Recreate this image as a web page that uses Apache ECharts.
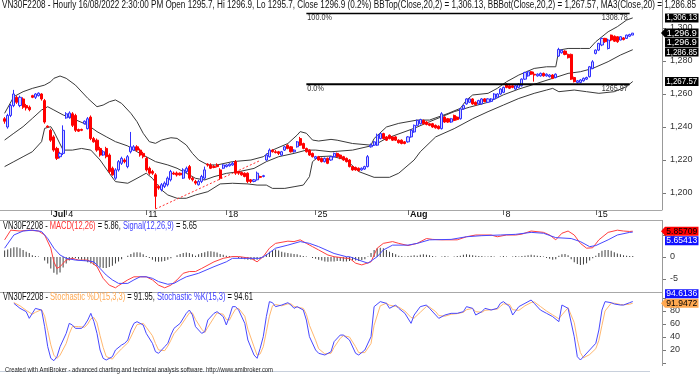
<!DOCTYPE html>
<html><head><meta charset="utf-8">
<script src="https://cdn.jsdelivr.net/npm/echarts@6/dist/echarts.min.js"></script>
<style>html,body{margin:0;padding:0;background:#fff}#c{width:700px;height:374px}</style>
</head><body><div id="c"></div>
<script>
// ---------------- DATA ----------------
const symbol = 'VN30F2208';
const barTime = '16/08/2022 2:30:00 PM';
const changePct = '0.2%';
// day-start bar index -> label
const dayTicks = [[15,'Jul'],[20,'4'],[46,'11'],[72,'18'],[101,'25'],[131,'Aug'],[162,'8'],[192,'15']];
// hourly bars: [open, close, low, high]
const priceBars = [
[1245,1243.5,1242,1246],[1240,1247,1239,1248],[1247,1253,1246,1254],[1253,1260,1252,1262.5],[1258,1255,1254,1259],
[1253,1258,1252,1259],[1257,1252,1251,1258],[1253,1251.5,1250,1254],[1252,1250.5,1249.5,1253],[1259,1258,1257.5,1259.5],
[1258,1260,1257,1260.5],[1259,1260.5,1258.5,1261],[1260,1257,1256,1260.5],[1256,1243,1242,1257],[1240.5,1240,1239.5,1241],
[1238,1232,1231,1239],[1234,1226,1225,1235],[1227,1221,1220,1228],[1222,1224,1221,1225],[1224,1238,1223,1241],
[1245.5,1248,1245,1249],[1246,1248.5,1245,1249.5],[1248,1241,1240,1249],[1247,1238,1237,1248],[1238.5,1237.5,1237,1239],
[1238.5,1238,1237.5,1239],[1242,1243.5,1241.5,1244],[1239,1245,1238.5,1246],[1246,1233,1232,1247],[1233,1231,1230.5,1234],
[1232,1226,1225,1233],[1227,1223,1222,1228],[1223,1225,1222.5,1226],[1227,1222,1221,1228],[1223,1213,1212,1224],
[1215,1211,1210.5,1216],[1209,1214,1208,1215],[1214,1219,1213,1220],[1218,1221,1217,1222],[1220,1219,1218,1221],
[1216,1222,1215,1223],[1225,1228,1224,1237],[1226,1228,1225.5,1229],[1228,1226,1225,1229],[1226,1223,1222,1227],
[1224,1222,1221,1225],[1221,1214,1213,1222],[1215,1212,1211,1216],[1213,1212,1211,1214],[1211,1198,1190.5,1212],
[1204,1203,1202,1205],[1202,1205,1201,1206],[1204,1206,1203,1207],[1205,1209,1204,1210],[1208,1213,1207,1214],
[1212,1211.5,1211,1213],[1212,1211,1210,1213],[1212,1211,1210.5,1212.5],[1209,1214,1208.5,1215],[1213,1215,1212,1216],
[1216,1209,1208,1217],[1209,1208,1207,1210],[1207,1206,1205,1208],[1205,1207,1204.5,1208],[1207,1210,1206,1211],
[1209,1214,1208,1216],[1217.5,1217,1216,1218],[1217,1215,1214.5,1218],[1216,1215.5,1215,1217],[1217,1216,1215.5,1218],
[1214,1209,1208,1215],[1215,1217,1214.5,1217.5],[1216,1217,1215.5,1217.5],[1216.5,1217.5,1216,1218],[1217,1218,1216.5,1219],
[1219,1212,1211,1220],[1213,1212,1211,1213.5],[1212.5,1211,1210.5,1213],[1212,1210,1209.5,1212.5],[1212,1207,1206,1212.5],
[1208,1207,1206,1208.5],[1207,1208,1206.5,1208.5],[1208,1212,1207.5,1213],[1210,1209.5,1209,1210.5],[1210,1210.5,1209.5,1211],
[1220,1223,1219.5,1224],[1222,1226,1221.5,1227],[1226,1225,1224.5,1226.5],[1225,1224.5,1224,1226],[1225,1224,1223,1225.5],
[1223,1225,1222.5,1225.5],[1226,1228,1225.5,1228.5],[1229,1227,1226.5,1229.5],[1228,1225,1224.5,1228.5],[1225,1226,1224.5,1226.5],
[1228,1231,1227.5,1231.5],[1233,1229,1228.5,1234],[1230,1227,1226.5,1230.5],[1227,1225,1224.5,1227.5],[1226,1223,1222.5,1226.5],
[1224,1222,1221.5,1224.5],[1221,1222,1220.5,1222.5],[1222,1220,1219.5,1222.5],[1221,1219,1218.5,1221.5],[1219,1221,1218.5,1221.5],
[1221,1218,1217.5,1221.5],[1220,1222,1219.5,1222.5],[1222,1224,1221.5,1224.5],[1224,1222,1221.5,1224.5],[1223,1221,1220.5,1223.5],
[1222,1220,1219.5,1222.5],[1221,1219,1218.5,1221.5],[1220,1216,1215.5,1220.5],[1216,1214,1213.5,1216.5],[1215.5,1214,1213.5,1216],
[1215,1213.5,1213,1215.5],[1214,1215,1213.5,1215.5],[1214.5,1216,1214,1216.5],[1216,1222,1215.5,1223],[1228,1229,1227.5,1230],
[1229,1231,1228.5,1231.5],[1229,1235,1228.5,1236],[1233,1236,1232.5,1236.5],[1236,1233,1232.5,1236.5],[1234,1232,1231.5,1234.5],
[1235,1233,1232.5,1235.5],[1234,1232,1231.5,1234.5],[1234,1232,1231.5,1234.5],[1232,1230.5,1230,1232.5],[1232,1230,1229.5,1232.5],
[1231,1230,1229.5,1231.5],[1231,1234,1230.5,1234.5],[1234,1238,1233.5,1238.5],[1237,1241,1236.5,1241.5],[1241,1244,1240.5,1244.5],
[1242,1244.5,1241.5,1245],[1244,1242,1241.5,1244.5],[1243,1241.5,1241,1243.5],[1242,1241,1240.5,1242.5],[1242,1240,1239.5,1242.5],
[1241,1239.5,1239,1241.5],[1240.5,1239,1238.5,1241],[1239,1248,1238.5,1249],[1246,1243,1242.5,1246.5],[1245,1243,1242.5,1245.5],
[1243,1245,1242.5,1245.5],[1247,1244,1243.5,1247.5],[1246,1244.5,1244,1246.5],[1245,1251,1244.5,1251.5],[1251,1253,1250.5,1253.5],
[1254,1257,1253.5,1257.5],[1255,1257,1254.5,1257.5],[1257,1254,1253.5,1257.5],[1255,1253.5,1253,1255.5],[1254,1256,1253.5,1256.5],
[1254,1257,1253.5,1257.5],[1257,1255.5,1255,1257.5],[1255,1257,1254.5,1257.5],[1255.5,1257,1255,1257.5],[1257,1260,1256.5,1260.5],
[1258,1260,1257.5,1260.5],[1260,1263,1259.5,1263.5],[1261,1264,1260.5,1264.5],[1266,1264,1263.5,1266.5],[1265,1263.5,1263,1265.5],
[1265,1264,1263.5,1265.5],[1263,1265,1262.5,1265.5],[1264,1266,1263.5,1266.5],[1265,1269,1264.5,1269.5],[1269,1273,1268.5,1273.5],
[1271,1273.5,1270.5,1274],[1273.5,1272,1271.5,1274],[1272,1271.5,1267.5,1273.5],[1271,1272,1270.5,1272.5],[1271,1272.5,1270.5,1273],
[1272.5,1271,1270.5,1273],[1271,1272,1270.5,1272.5],[1270.5,1271.5,1270,1272],[1271.5,1269.5,1269,1272],[1270,1272,1269.5,1272.5],
[1283,1287,1282.5,1288],[1285,1286.5,1284.5,1287],[1286,1284,1283.5,1286.5],[1284,1282,1281.5,1284.5],[1284,1269,1268.5,1284.5],
[1270,1267.5,1267,1270.5],[1267,1268,1266.4,1268.5],[1267,1268.5,1266.5,1269],[1268,1269.5,1267.5,1270],[1269,1270,1268.5,1270.5],
[1270.5,1276.5,1270,1277],[1275.5,1279.5,1275,1280.5],[1284.6,1286.6,1284,1287],[1286.6,1290.7,1286,1291],[1289.7,1293.7,1289,1294],
[1293.7,1291.7,1291,1294],[1287.6,1292.7,1287,1293.5],[1295.7,1292.7,1292,1296],[1295,1292,1291.5,1295.5],[1294.7,1291.7,1291,1295],
[1292.7,1294.7,1292.5,1295],[1294,1293,1292.5,1294.5],[1293.7,1295.7,1293.5,1296],[1295,1296,1294.5,1296.5],[1295.7,1296.9,1295.7,1296.9]
];
// Bollinger bands: [bar index, value]
const bbUpper = [[0,1248.3],[3,1258.4],[6,1261.4],[9,1263.4],[13,1265.4],[15,1267.5],[16,1269.5],[18,1270.9],[20,1269.5],[23,1265.4],[27,1257.4],[30,1252.3],[32,1253.3],[34,1255.3],[36,1256.4],[38,1254.3],[41,1248.3],[43,1243.2],[45,1236.2],[47,1231.1],[49,1230.1],[51,1232.1],[54,1233.5],[56,1233.1],[59,1229.1],[61,1224],[63,1220],[66,1217],[69,1217],[74,1219],[80,1220],[84,1222],[87,1226],[92,1230],[95,1235.1],[96,1237.2],[98,1236.2],[100,1232.1],[102,1231.5],[106,1232.5],[108,1232],[113,1230],[119,1229],[120,1233],[124,1240],[128,1242.2],[134,1244.2],[138,1244.2],[144,1248.2],[148,1251.3],[150,1256.3],[152,1259.4],[157,1260.4],[160,1263.4],[163,1267.4],[167,1271.5],[172,1275.5],[176,1276.5],[179,1276.5],[180,1286.6],[183,1287.6],[187,1287.6],[190,1287.6],[192,1291.7],[196,1297.7],[199,1300.8],[202,1304.8],[204,1306.13]];
const bbMid = [[0,1232.1],[3,1236.2],[6,1240.2],[9,1245.2],[12,1250.3],[14,1252.3],[16,1250.3],[19,1247.3],[22,1245.2],[27,1241.2],[30,1237.2],[33,1234.1],[36,1231.1],[40,1228.5],[43,1225],[46,1222],[49,1219],[53,1217],[56,1215],[59,1212],[62,1208.9],[65,1207.9],[68,1209.9],[72,1211.9],[76,1212.9],[81,1214.9],[85,1219],[89,1222],[94,1224],[98,1226],[101,1226],[106,1225],[113,1226],[120,1229],[124,1233.1],[133,1239.2],[138,1243.2],[146,1249.3],[151,1252],[157,1255],[162,1259.5],[167,1263],[173,1266.5],[178,1269.5],[183,1272.5],[187,1273.5],[191,1275.5],[196,1279.6],[200,1283.6],[204,1286.85]];
const bbLower = [[0,1216],[3,1219],[6,1222],[9,1225],[12,1231.1],[13,1239.2],[15,1240.2],[16,1237.2],[19,1226],[22,1226],[25,1227],[28,1226],[31,1220],[34,1212],[36,1206.9],[40,1205.9],[43,1208.9],[46,1212],[48,1208.9],[51,1201.8],[53,1198.8],[56,1196.8],[59,1196.8],[62,1198.8],[66,1200.8],[70,1205.5],[74,1205.9],[79,1205.5],[82,1204.8],[85,1204.8],[87,1202.8],[91,1202.8],[94,1203.8],[97,1204.8],[99,1209.9],[100,1219],[102,1222],[106,1222.4],[111,1220],[115,1213],[120,1209.5],[125,1209.5],[128,1212],[133,1220],[135,1225],[140,1234],[146,1239],[152,1245],[157,1249.3],[162,1253.3],[167,1257.3],[172,1260.4],[176,1262.4],[178,1263.4],[180,1261.4],[185,1262.4],[189,1261.4],[193,1260.4],[198,1261.4],[202,1264.5],[204,1267.57]];
const trendLine = [[49,1190.3],[83,1219.7]];
const fibLevels = [['100.0%',1308.78],['0.0%',1265.97]];
const fibBars = [98,203];
// MACD panel
const macdLine = [[0,3.9],[2,6.1],[5,5.9],[8,6.1],[11,5.9],[13,5.0],[15,2.0],[16,-1.1],[17,-2.6],[18,-2.2],[20,-0.7],[22,-0.3],[24,-0.7],[27,-0.7],[28,-1.1],[30,-2.2],[32,-4.85],[34,-6.4],[36,-7.0],[37,-6.5],[40,-5.2],[42,-4.5],[44,-4.5],[46,-4.5],[48,-5.2],[50,-6.4],[52,-7.0],[54,-6.4],[56,-5.2],[58,-3.7],[60,-3.3],[62,-3.3],[64,-2.6],[68,-1.1],[71,-0.3],[74,0.1],[76,0.1],[80,-0.3],[82,-1.1],[84,0.1],[86,2.0],[88,3.1],[92,3.6],[94,3.5],[96,3.9],[98,3.1],[100,2.35],[102,1.6],[105,0.45],[107,0.07],[111,-0.3],[112,-0.3],[114,-1.4],[116,-1.8],[119,-1.1],[121,2.0],[123,3.1],[126,3.5],[128,3.1],[131,2.6],[134,3.1],[137,4.2],[139,4.0],[142,3.9],[147,3.9],[150,4.6],[153,5.0],[158,5.0],[160,4.6],[163,5.0],[166,5.0],[168,5.2],[171,5.9],[175,5.6],[177,5.0],[179,3.9],[181,5.4],[183,5.9],[185,5.0],[187,3.1],[189,2.0],[191,2.1],[193,3.9],[196,5.6],[199,6.1],[201,5.9],[203,5.8],[204,5.85709]];
const signalLine = [[0,2.0],[3,5.0],[6,5.9],[9,6.1],[12,5.8],[14,4.2],[16,2.0],[18,0.45],[20,-0.3],[23,-0.7],[27,-0.9],[29,-1.1],[31,-2.6],[33,-4.1],[35,-5.2],[37,-6.0],[40,-6.0],[42,-5.2],[44,-4.5],[46,-4.5],[48,-4.85],[50,-5.6],[53,-6.2],[55,-6.0],[57,-5.2],[59,-4.5],[63,-3.7],[68,-2.2],[72,-1.1],[74,-0.3],[79,-0.3],[83,-0.3],[85,0.45],[88,2.0],[92,2.7],[96,3.5],[99,3.1],[102,2.35],[107,0.8],[111,0.07],[112,0.07],[115,-0.7],[118,-1.4],[121,0.07],[123,1.6],[126,2.7],[131,2.7],[134,3.1],[138,3.9],[145,4.0],[150,4.6],[155,4.85],[161,5.0],[166,5.15],[171,5.6],[175,5.4],[179,4.4],[184,4.2],[187,3.5],[190,2.35],[192,2.6],[196,3.9],[199,5.0],[203,5.6],[204,5.65413]];
const macdHist = [
1.5,1.7,2.0,2.2,2.2,2.0,1.6,1.2,0.9,0.4, 0.2,0.1,0.0,-0.8,-1.5,-2.6,-3.6,-4.0,-3.5,-2.4,
-1.5,-0.8,-0.4,-0.2,-0.4,-0.6,-0.9,-1.2,-1.5,-1.8, -2.1,-2.4,-2.5,-2.5,-2.3,-2.0,-1.5,-1.0,-0.5,0.0,
0.3,0.7,1.0,1.1,1.0,0.6,0.2,-0.2,-0.6,-1.0, -1.1,-1.0,-0.9,-0.6,-0.3,0.0,0.4,0.7,0.9,1.0,
0.9,0.6,0.3,0.6,0.9,1.1,1.3,1.3,1.2,1.0, 0.7,0.5,0.3,0.2,0.1,0.0,-0.2,-0.4,-0.5,-0.6,
-0.6,-0.7,-0.6,-0.4,-0.1,0.6,1.2,1.6,1.7,1.5, 1.2,1.0,0.9,0.8,0.7,0.6,0.4,0.2,0.1,0.0,
-0.2,-0.4,-0.6,-0.8,-1.0,-1.1,-1.0,-1.0,-0.9,-0.9, -1.0,-1.0,-0.9,-0.8,-0.8,-0.9,-0.7,-0.5,0.1,0.9,
1.6,2.0,2.1,2.0,1.6,1.2,0.9,0.6,0.3,0.2, 0.1,0.2,0.3,0.4,0.3,0.5,0.6,0.5,0.4,0.2,
0.1,0.0,0.1,0.2,0.1,0.0,0.1,0.2,0.3,0.5, 0.6,0.5,0.4,0.3,0.2,0.2,0.1,0.1,0.2,0.1,
0.0,0.1,0.2,0.1,0.0,0.1,0.2,0.1,0.2,0.3, 0.4,0.5,0.4,0.3,0.2,0.1,-0.2,-0.4,-0.6,-0.5,
0.3,0.6,0.7,0.4,-0.5,-1.2,-1.6,-1.8,-1.7,-1.4, -0.8,-0.3,0.3,0.9,1.4,1.6,1.6,1.4,1.1,0.8,
0.6,0.4,0.3,0.2,0.2];
// Stochastic panel
const stochK = [[3,91.8],[5,84.1],[7,79],[8,68.7],[9,76.4],[10,84],[12,81.5],[13,55.9],[14,25.1],[15,7.2],[16,3.6],[17,9.7],[18,25],[20,45.6],[21,61],[22,58.5],[23,53.3],[25,53.3],[26,58.5],[27,66.1],[28,76.4],[29,63.6],[30,45.6],[31,20],[32,7.2],[33,4.6],[35,9.7],[36,20],[38,27.7],[39,30.3],[40,35.4],[41,50.8],[42,61],[43,63.6],[45,58.5],[46,45.6],[48,30.3],[49,17.4],[50,14.9],[52,25.1],[53,30.3],[54,43],[55,53.3],[57,61],[59,76.4],[60,81.5],[61,73.8],[62,55.9],[64,45.6],[65,48.2],[66,66.1],[68,76.4],[69,79],[71,71.3],[72,58.5],[73,71.3],[74,86.7],[75,86.7],[76,81.5],[78,61],[79,35.4],[81,12.3],[82,7.2],[83,22.6],[84,40.5],[85,71.3],[86,94.4],[87,92.8],[88,86.7],[90,89.2],[92,92.8],[93,89.2],[94,84.1],[95,86.7],[97,81.5],[98,66.1],[99,40.5],[101,20],[102,14.9],[104,12.3],[106,17.4],[107,32.8],[109,43],[110,43],[112,35.4],[114,14.9],[115,12.3],[117,20],[119,40.5],[120,86.7],[122,94.4],[124,91.8],[125,84.1],[127,89.2],[128,84.1],[130,76.4],[132,61],[133,73.8],[135,86.7],[137,89.2],[138,84.1],[140,73.8],[141,68.7],[143,73.8],[145,76.4],[147,76.4],[149,79],[150,86.7],[152,84.1],[153,73.8],[155,79],[156,84.1],[158,81.5],[160,84.1],[161,91.8],[162,94.4],[164,86.7],[165,73.8],[167,86.7],[169,91.8],[171,96.9],[172,91.8],[174,81.5],[176,76.4],[178,71.3],[180,63.6],[181,89.2],[183,84.1],[185,40.5],[186,9.7],[187,4.6],[188,9.7],[190,20],[192,30.3],[193,50.8],[194,81.5],[195,94.4],[197,92.8],[198,90.8],[200,89.2],[201,89.2],[203,92.8],[204,94.6136]];
const stochD = [[3,93],[5,88],[7,81],[9,75],[10,78],[12,82],[13,72],[14,50],[15,28],[16,12],[17,7],[18,12],[20,30],[21,45],[22,56],[24,56],[26,55],[27,60],[28,68],[29,70],[30,62],[31,42],[32,24],[33,10],[35,6],[36,12],[38,22],[40,31],[41,40],[42,50],[43,59],[45,61],[46,55],[48,42],[49,30],[50,20],[52,19],[53,26],[54,35],[55,45],[57,56],[59,70],[60,77],[61,77],[62,67],[64,52],[65,47],[66,55],[68,70],[69,77],[71,75],[72,67],[73,66],[74,75],[75,83],[76,84],[78,72],[79,52],[81,25],[82,12],[83,14],[84,25],[85,48],[86,72],[87,88],[88,90],[90,88],[92,91],[93,91],[94,87],[95,86],[97,84],[98,75],[99,58],[101,35],[102,22],[104,14],[106,15],[107,24],[109,38],[110,42],[112,40],[114,25],[115,16],[117,16],[119,30],[120,58],[122,88],[124,92],[125,89],[127,87],[128,86],[130,80],[132,70],[133,69],[135,78],[137,87],[138,86],[140,79],[141,73],[143,72],[145,75],[147,76],[149,78],[150,82],[152,84],[153,79],[155,78],[156,81],[158,82],[160,83],[161,87],[162,91],[164,90],[165,82],[167,81],[169,88],[171,93],[172,94],[174,87],[176,80],[178,74],[180,68],[181,74],[183,85],[185,62],[186,36],[187,16],[188,8],[190,13],[192,22],[193,35],[194,58],[195,80],[197,92],[198,92],[200,90],[201,89.5],[203,90.5],[204,91.9472]];

// ---------------- LAYOUT / STYLE ----------------
const W = 662;               // plot right edge (axis line)
const LEAD = 1, TRAIL = 9;   // empty slots before / after the bars
const nSlots = LEAD + priceBars.length + TRAIL;
const slot = k => k + LEAD;
const cats = Array.from({length: nSlots}, (_, i) => String(i));
const labelMap = {};
dayTicks.forEach(([k, t]) => { labelMap[slot(k)] = t; });
const FF = "'Liberation Sans', Arial, sans-serif";
const NARROW = "'Liberation Sans Narrow', 'Liberation Sans', Arial, sans-serif";

const toPts = arr => arr.map(([k, v]) => [slot(k), v]);
const fmt = (v, d) => v.toLocaleString('en-US', {minimumFractionDigits: d, maximumFractionDigits: d});

const chart = echarts.init(document.getElementById('c'), null, {renderer: 'canvas'});

const lastBar = priceBars[priceBars.length - 1];
const last = a => a[a.length - 1][1];

const xBase = {type: 'category', data: cats, boundaryGap: true};
const option = {
  animation: false,
  backgroundColor: '#ffffff',
  grid: [
    {left: 0, width: W, top: 28, height: 165},
    {left: 0, width: W, top: 235, height: 44},
    {left: 0, width: W, top: 298, height: 65}
  ],
  xAxis: [
    Object.assign({}, xBase, {gridIndex: 0, position: 'bottom', offset: 17,
      axisLine: {show: true, lineStyle: {color: '#a8a8a8', width: 1}},
      axisTick: {show: true, alignWithLabel: true, length: 5, lineStyle: {color: '#666'},
        interval: (i) => labelMap[i] !== undefined},
      axisLabel: {show: true, interval: (i) => labelMap[i] !== undefined, margin: 0, align: 'left',
        padding: [0, 0, 0, 2], fontSize: 9, fontFamily: FF, color: '#111',
        formatter: (v, i) => { const t = labelMap[+v]; if (t === undefined) return ''; return isNaN(+t) ? '{b|' + t + '}' : t; },
        rich: {b: {fontWeight: 'bold', fontSize: 9, fontFamily: FF, color: '#111'}}},
      splitLine: {show: false}}),
    Object.assign({}, xBase, {gridIndex: 1, show: false}),
    Object.assign({}, xBase, {gridIndex: 2, show: false})
  ],
  yAxis: [
    {type: 'value', gridIndex: 0, position: 'right', min: 1200, max: 1300, interval: 20,
      axisLine: {show: false}, axisTick: {show: true, length: 4, lineStyle: {color: '#777'}},
      axisLabel: {margin: 8, fontSize: 9, fontFamily: NARROW, color: '#333', formatter: v => fmt(v, 0)},
      splitLine: {show: false}},
    {type: 'value', gridIndex: 1, position: 'right', min: -5, max: 5, interval: 5,
      axisLine: {show: false}, axisTick: {show: true, length: 4, lineStyle: {color: '#777'}},
      axisLabel: {margin: 8, fontSize: 9, fontFamily: NARROW, color: '#333'},
      splitLine: {show: false}},
    {type: 'value', gridIndex: 2, position: 'right', min: 0, max: 100, interval: 20,
      axisLine: {show: false}, axisTick: {show: true, length: 4, lineStyle: {color: '#777'}},
      axisLabel: {margin: 8, fontSize: 9, fontFamily: NARROW, color: '#333',
        formatter: v => (v === 0 || v === 100) ? '' : String(v)},
      splitLine: {show: false}}
  ],
  series: [
    {type: 'line', name: 'BBTop', xAxisIndex: 0, yAxisIndex: 0, data: toPts(bbUpper), symbol: 'none', clip: false,
      lineStyle: {color: '#3a3a3a', width: 1}, z: 2},
    {type: 'line', name: 'MA', xAxisIndex: 0, yAxisIndex: 0, data: toPts(bbMid), symbol: 'none', clip: false,
      lineStyle: {color: '#3a3a3a', width: 1}, z: 2},
    {type: 'line', name: 'BBBot', xAxisIndex: 0, yAxisIndex: 0, data: toPts(bbLower), symbol: 'none', clip: false,
      lineStyle: {color: '#3a3a3a', width: 1}, z: 2},
    {type: 'line', name: 'trend', xAxisIndex: 0, yAxisIndex: 0, data: toPts(trendLine), symbol: 'none', clip: false,
      lineStyle: {color: '#ff3030', width: 1, type: [2, 2]}, z: 3},
    {type: 'candlestick', name: symbol, xAxisIndex: 0, yAxisIndex: 0, clip: false, barWidth: 2.6,
      data: priceBars.map((b, k) => [slot(k), b[0], b[1], b[2], b[3]]),
      encode: {x: 0, y: [1, 2, 3, 4]},
      itemStyle: {color: '#d0d0ff', color0: '#ff0000', borderColor: '#3030ff', borderColor0: '#ff0000', borderWidth: 1}, z: 4},
    ...fibLevels.map(([p, v], i) => ({type: 'line', name: 'fib' + p, xAxisIndex: 0, yAxisIndex: 0, symbol: 'none', clip: false,
      data: [[slot(fibBars[0]), v], [slot(fibBars[1]), v]],
      lineStyle: {color: '#000', width: i === 0 ? 1.4 : 2}, z: 5})),
    {type: 'bar', name: 'hist', xAxisIndex: 1, yAxisIndex: 1, clip: false, barWidth: 1,
      data: macdHist.map((v, k) => [slot(k), v]), itemStyle: {color: '#404040'}, z: 2},
    {type: 'line', name: 'MACD', xAxisIndex: 1, yAxisIndex: 1, data: toPts(macdLine), symbol: 'none', clip: false,
      lineStyle: {color: '#ff4040', width: 1}, z: 3},
    {type: 'line', name: 'Signal', xAxisIndex: 1, yAxisIndex: 1, data: toPts(signalLine), symbol: 'none', clip: false,
      lineStyle: {color: '#4848ff', width: 1}, z: 3},
    {type: 'line', name: '%D', xAxisIndex: 2, yAxisIndex: 2, data: toPts(stochD), symbol: 'none', clip: false,
      lineStyle: {color: '#ffb870', width: 1}, z: 3},
    {type: 'line', name: '%K', xAxisIndex: 2, yAxisIndex: 2, data: toPts(stochK), symbol: 'none', clip: false,
      lineStyle: {color: '#4848ff', width: 1}, z: 4}
  ]
};
chart.setOption(option);

// ---------------- TEXT / ANNOTATIONS ----------------
const cv = document.createElement('canvas').getContext('2d');
const tw = (s, font) => { cv.font = font; return cv.measureText(s).width; };
function fitText(x, y, str, font, target, fill) {
  const s = target / tw(str, font);
  return {type: 'text', x: x, y: y, scaleX: s, silent: true, z: 100,
    style: {text: str, font: font, fill: fill || '#000', textVerticalAlign: 'middle', verticalAlign: 'middle'}};
}
function richFit(x, y, parts, size, target) {
  const font = size + 'px ' + FF;
  const plain = parts.map(p => p[0]).join('');
  const s = target / tw(plain, font);
  const rich = {};
  let text = '';
  parts.forEach((p, i) => { rich['p' + i] = {fill: p[1], fontSize: size, fontFamily: FF}; text += '{p' + i + '|' + p[0] + '}'; });
  return {type: 'text', x: x, y: y, scaleX: s, silent: true, z: 100,
    style: {text: text, rich: rich, font: font, textVerticalAlign: 'middle', verticalAlign: 'middle'}};
}

const g = [];
// header line
const header = symbol + ' - Hourly ' + barTime + ' Open ' + lastBar[0] + ', Hi ' + lastBar[3] + ', Lo ' + lastBar[2] +
  ', Close ' + lastBar[1] + ' (' + changePct + ') BBTop(Close,20,2) = ' + fmt(last(bbUpper), 2) +
  ', BBBot(Close,20,2) = ' + fmt(last(bbLower), 2) + ', MA3(Close,20) = ' + fmt(last(bbMid), 2);
g.push(fitText(2, 5, header, '10px ' + FF, 694, '#111'));
g.push(richFit(3, 226, [[symbol + ' - ', '#111'], ['MACD(12,26)', '#ff3030'], [' = ' + last(macdLine).toFixed(2) + ', ', '#111'],
  ['Signal(12,26,9)', '#4040ff'], [' = ' + last(signalLine).toFixed(2), '#111']], 10, 194));
g.push(richFit(3, 297.5, [[symbol + ' - ', '#111'], ['Stochastic %D(15,3,3)', '#ffa850'], [' = ' + last(stochD).toFixed(2) + ', ', '#111'],
  ['Stochastic %K(15,3)', '#4040ff'], [' = ' + last(stochK).toFixed(2), '#111']], 10, 250));
g.push(fitText(5, 370, 'Created with AmiBroker - advanced charting and technical analysis software. http://www.amibroker.com',
  '8px ' + FF, 268, '#222'));

// frame lines
const ln = (x1, y1, x2, y2, c, w) => ({type: 'line', silent: true, z: 50, shape: {x1, y1, x2, y2}, style: {stroke: c, lineWidth: w || 1}});
g.push(ln(W + 0.5, 0, W + 0.5, 210, '#999'));
g.push(ln(0, 220.5, W, 220.5, '#a8a8a8'));
g.push(ln(W + 0.5, 220, W + 0.5, 292, '#999'));
g.push(ln(0, 292.5, W, 292.5, '#a8a8a8'));
g.push(ln(W + 0.5, 292, W + 0.5, 366, '#999'));
g.push(ln(0, 371.5, 650, 371.5, '#c8d0dc'));

// fib labels
const px = (k) => chart.convertToPixel({xAxisIndex: 0}, slot(k));
const py = (ai, v) => chart.convertToPixel({yAxisIndex: ai}, v);
fibLevels.forEach(([p, v]) => {
  const y = py(0, v) + 4.5;
  g.push(fitText(px(fibBars[0]) + 1, y, p, '9px ' + FF, tw(p, '9px ' + FF) * 0.8, '#333'));
  const vs = v.toFixed(2);
  const w = tw(vs, '9px ' + FF) * 0.8;
  g.push(fitText(px(fibBars[1]) - 2 - w, y, vs, '9px ' + FF, w, '#333'));
});

// value boxes on the right axis
const BOX_H = 9;
function box(y, str, bg, fg, arrow) {
  const x0 = 665, x1 = 698.5, h = BOX_H / 2;
  const pts = arrow ? [[661, y], [665, y - h], [x1, y - h], [x1, y + h], [665, y + h]]
                    : [[x0, y - h], [x1, y - h], [x1, y + h], [x0, y + h]];
  g.push({type: 'polygon', silent: true, z: 110, shape: {points: pts}, style: {fill: bg}});
  const font = '9px ' + FF;
  const s = Math.min(1, 31 / tw(str, font));
  g.push({type: 'text', x: (x0 + x1) / 2, y: y, scaleX: s, silent: true, z: 111,
    style: {text: str, font: font, fill: fg, textAlign: 'center', align: 'center', textVerticalAlign: 'middle', verticalAlign: 'middle'}});
}
// main panel: close is the anchor (arrow)
const yClose = py(0, lastBar[1]);
box(Math.min(py(0, last(bbUpper)), yClose - BOX_H - 0.5), fmt(last(bbUpper), 2), '#000', '#fff', false);
box(yClose, fmt(lastBar[1], 1), '#000', '#fff', true);
let yy = yClose + BOX_H + 0.5;
box(yy, fmt(lastBar[1], 1), '#000', '#fff', false);
yy = Math.max(py(0, last(bbMid)), yy + BOX_H + 0.5);
box(yy, fmt(last(bbMid), 2), '#000', '#fff', false);
yy = Math.max(py(0, last(bbLower)), yy + BOX_H + 0.5);
box(yy, fmt(last(bbLower), 2), '#000', '#fff', false);
// MACD panel
const yM = py(1, last(macdLine));
box(yM, String(last(macdLine)), '#ff0000', '#000', true);
box(Math.max(py(1, last(signalLine)), yM + BOX_H + 0.5), String(last(signalLine)), '#1010ff', '#fff', false);
// Stochastic panel
const yD = py(2, last(stochD));
box(yD, String(last(stochD)), '#ffa850', '#000', true);
box(Math.min(py(2, last(stochK)), yD - BOX_H - 0.5), String(last(stochK)), '#1010ff', '#fff', false);

chart.setOption({graphic: g});
</script></body></html>
